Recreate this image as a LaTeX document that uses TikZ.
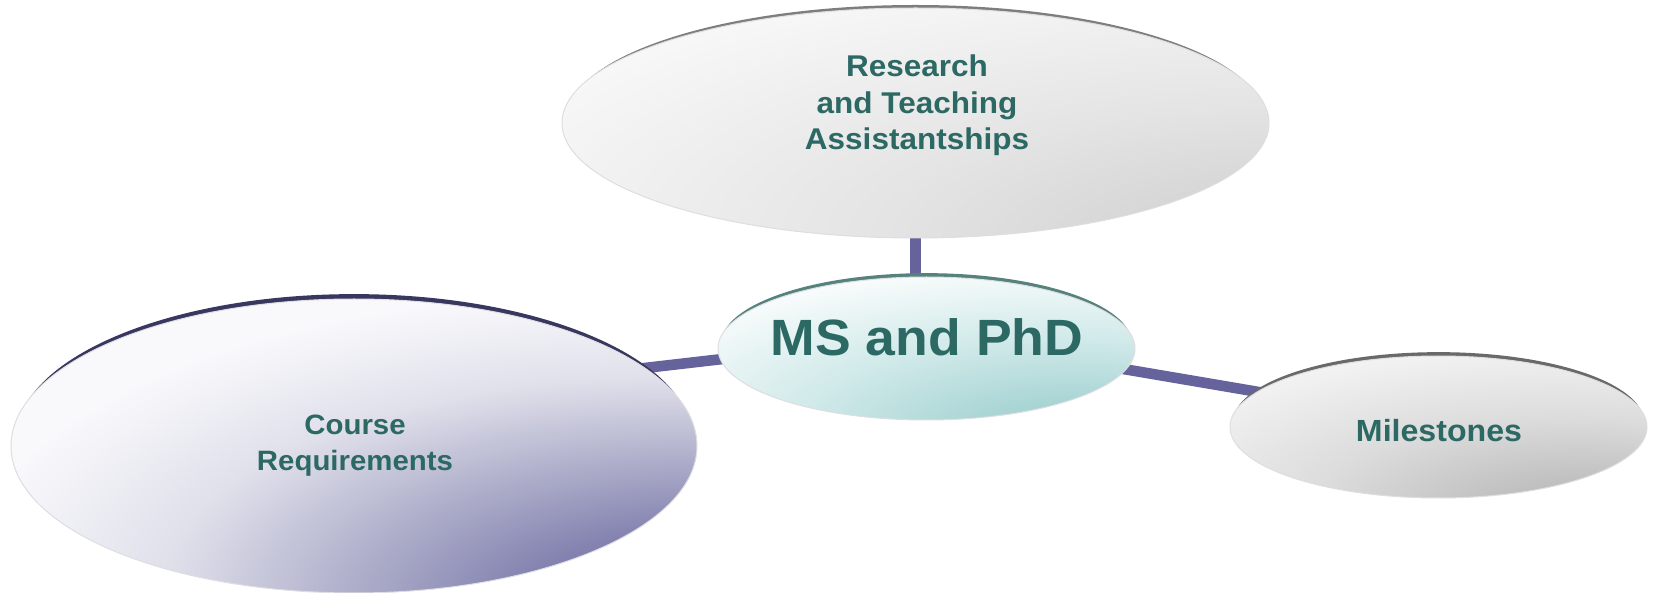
\documentclass[tikz,border=0pt]{standalone}
\usepackage{fontspec}
\setmainfont{Liberation Sans}
\newfontfamily\widesans[FakeStretch=1.05]{Liberation Sans}
\usetikzlibrary{shapes.geometric,shadows}
\definecolor{txt}{RGB}{45,105,100}
\definecolor{linkc}{RGB}{102,98,155}
\definecolor{edgec}{RGB}{222,222,226}
\definecolor{rimT}{RGB}{125,125,125}
\definecolor{rimL}{RGB}{55,55,95}
\definecolor{rimM}{RGB}{85,130,125}
\definecolor{rimR}{RGB}{105,105,105}
\definecolor{gT1}{RGB}{205,205,205}
\definecolor{gT2}{RGB}{228,228,228}
\definecolor{gT3}{RGB}{248,248,248}
\definecolor{gL1}{RGB}{116,114,166}
\definecolor{gL2}{RGB}{170,170,200}
\definecolor{gL3}{RGB}{224,224,235}
\definecolor{gL4}{RGB}{249,249,252}
\definecolor{gM1}{RGB}{160,208,208}
\definecolor{gM2}{RGB}{210,234,234}
\definecolor{gM3}{RGB}{250,252,252}
\definecolor{gR1}{RGB}{185,185,185}
\definecolor{gR2}{RGB}{220,220,220}
\definecolor{gR3}{RGB}{248,248,248}
\pgfdeclareradialshading{glowT}{\pgfpoint{35bp}{-33bp}}{color(0bp)=(gT1); color(8bp)=(gT1); color(30bp)=(gT2); color(55bp)=(gT3); color(140bp)=(gT3)}
\pgfdeclareradialshading{glowL}{\pgfpoint{30bp}{-33bp}}{color(0bp)=(gL1); color(12bp)=(gL1); color(24bp)=(gL2); color(36bp)=(gL3); color(48bp)=(gL4); color(140bp)=(gL4)}
\pgfdeclareradialshading{glowM}{\pgfpoint{21bp}{-36bp}}{color(0bp)=(gM1); color(10bp)=(gM1); color(32bp)=(gM2); color(52bp)=(gM3); color(140bp)=(gM3)}
\pgfdeclareradialshading{glowR}{\pgfpoint{20bp}{-34bp}}{color(0bp)=(gR1); color(8bp)=(gR1); color(30bp)=(gR2); color(55bp)=(gR3); color(140bp)=(gR3)}
\pgfdeclarelayer{bg}
\pgfsetlayers{bg,main}
\tikzset{
  bubble/.style={ellipse, inner sep=0pt, draw=edgec, line width=0.5pt, shade},
  rim/.style 2 args={general shadow={fill=#1, shadow scale=0.985, shadow xshift=0pt, shadow yshift=#2}},
  linkline/.style={draw=linkc, line width=5.3pt, shorten <=-4pt, shorten >=-4pt},
  label/.style={text=txt, align=center, inner sep=0pt}
}
\begin{document}
\begin{tikzpicture}[x=0.5pt,y=-0.5pt]
\useasboundingbox (0,0) rectangle (1656,593);
\node[bubble, minimum width=353.5pt, minimum height=115pt, shading=glowT, rim={rimT}{2.4pt}] (top) at (915.5,123) {};
\node[bubble, minimum width=343pt, minimum height=147pt, shading=glowL, rim={rimL}{3.6pt}] (L) at (354,446) {};
\node[bubble, minimum width=208.5pt, minimum height=71.5pt, shading=glowM, rim={rimM}{2.5pt}] (mid) at (926.5,348.5) {};
\node[bubble, minimum width=208.5pt, minimum height=71pt, shading=glowR, rim={rimR}{2.5pt}] (R) at (1438.5,427) {};
\begin{pgfonlayer}{bg}
\draw[linkline] (top.south) -- (top.south |- mid.north);
\draw[linkline] (L.15) -- (mid.183);
\draw[linkline] (mid.354) -- (R.169);
\end{pgfonlayer}
\node[label, font=\widesans\bfseries\fontsize{15pt}{18.3pt}\selectfont] (topt) at (917,105.5) {Research\\and Teaching\\Assistantships};
\node[label, font=\widesans\bfseries\fontsize{25.5pt}{30pt}\selectfont] (midt) at (927,337) {MS and PhD};
\node[label, font=\widesans\bfseries\fontsize{15.3pt}{18pt}\selectfont] (Rt) at (1439,430.5) {Milestones};
\node[label, font=\widesans\bfseries\fontsize{14pt}{18pt}\selectfont] (Lt) at (355,445.5) {Course\\Requirements};
\end{tikzpicture}
\end{document}
